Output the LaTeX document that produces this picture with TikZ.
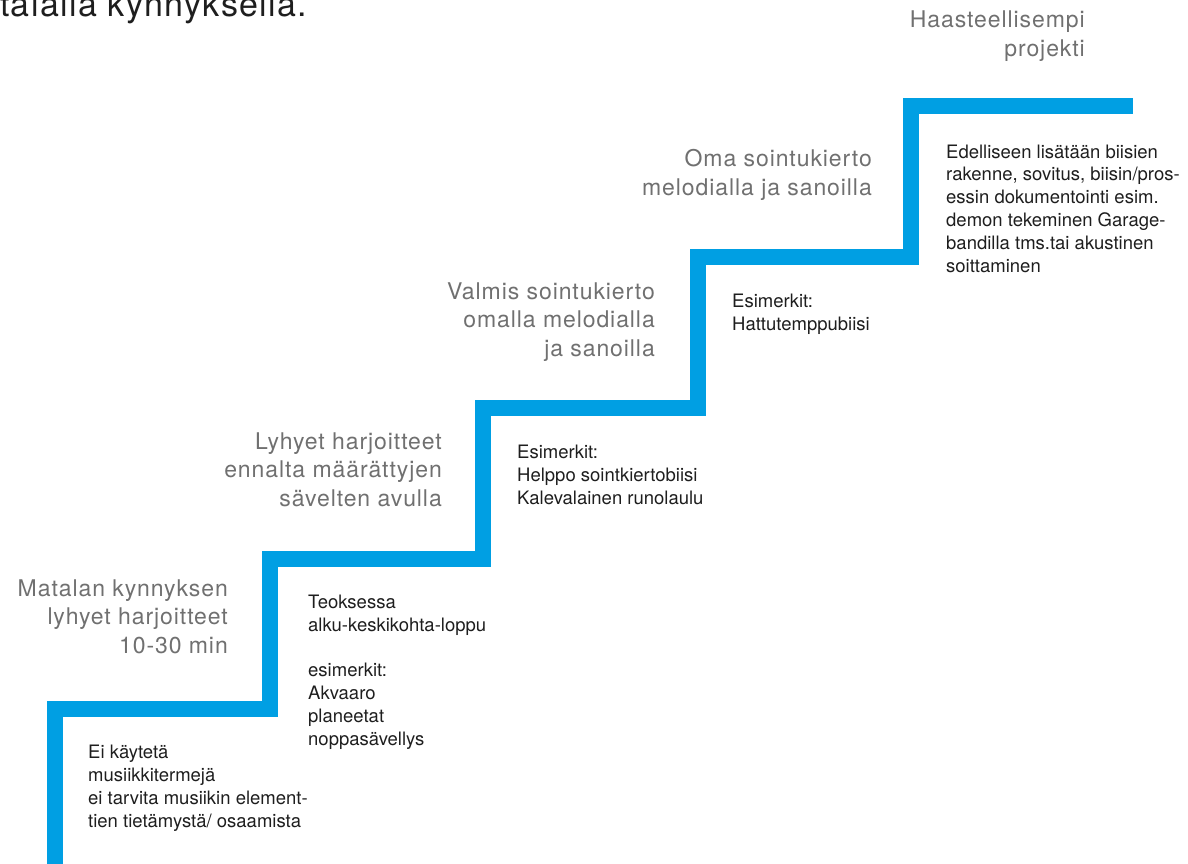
\documentclass[tikz,border=0pt]{standalone}
\usepackage{fontspec}
\setmainfont{TeX Gyre Heros}
\newfontfamily\headfont[LetterSpace=4]{TeX Gyre Heros}
\definecolor{stairblue}{RGB}{0,159,227}
\definecolor{headgray}{RGB}{112,112,112}
\definecolor{noteblack}{RGB}{30,30,30}
\tikzset{
	heading/.style={anchor=base east, align=right, inner sep=0pt, text=headgray, font=\headfont\fontsize{23}{28.3}\selectfont},
	note/.style={anchor=base west, align=left, inner sep=0pt, text=noteblack, font=\fontsize{18.5}{22.8}\selectfont},
	stair/.style={line width=16pt, stairblue, line join=miter}
}

\begin{document}
\begin{tikzpicture}[x=1pt, y=-1pt]
		\useasboundingbox (0,0) rectangle (1188,863);
		\draw [stair](55,870) -- (55,709) -- (269.5,709) -- (269.5,559) -- (483,559) -- (483,408) -- (697.5,408) -- (697.5,257) -- (911,257) -- (911,106) -- (1133,106);
		\node (title)[anchor=base west, inner sep=0pt, text=noteblack, font=\headfont\fontsize{34}{40}\selectfont] at (0,16) {talalla kynnyksellä.};
		\node (low)[heading] at (228,653) {Matalan kynnyksen\\lyhyet harjoitteet\\10-30 min};
		\node (short)[heading] at (442,506) {Lyhyet harjoitteet\\ennalta määrättyjen\\sävelten avulla};
		\node (ready)[heading] at (655,356) {Valmis sointukierto\\omalla melodialla\\ja sanoilla};
		\node (own)[heading] at (872,195) {Oma sointukierto\\melodialla ja sanoilla};
		\node (hard)[heading] at (1085,56) {Haasteellisempi\\projekti};
		\node (lownote)[note] at (88,827) {Ei käytetä\\musiikkitermejä\\ei tarvita musiikin element-\\tien tietämystä/ osaamista};
		\node (shortnote)[note] at (308,745) {Teoksessa\\alku-keskikohta-loppu\\[22.8pt]esimerkit:\\Akvaaro\\planeetat\\noppasävellys};
		\node (readynote)[note] at (517,504) {Esimerkit:\\Helppo sointkiertobiisi\\Kalevalainen runolaulu};
		\node (ownnote)[note] at (732,330) {Esimerkit:\\Hattutemppubiisi};
		\node (hardnote)[note] at (946,272) {Edelliseen lisätään biisien\\rakenne, sovitus, biisin/pros-\\essin dokumentointi esim.\\demon tekeminen Garage-\\bandilla tms.tai akustinen\\soittaminen};
	\end{tikzpicture}
\end{document}
